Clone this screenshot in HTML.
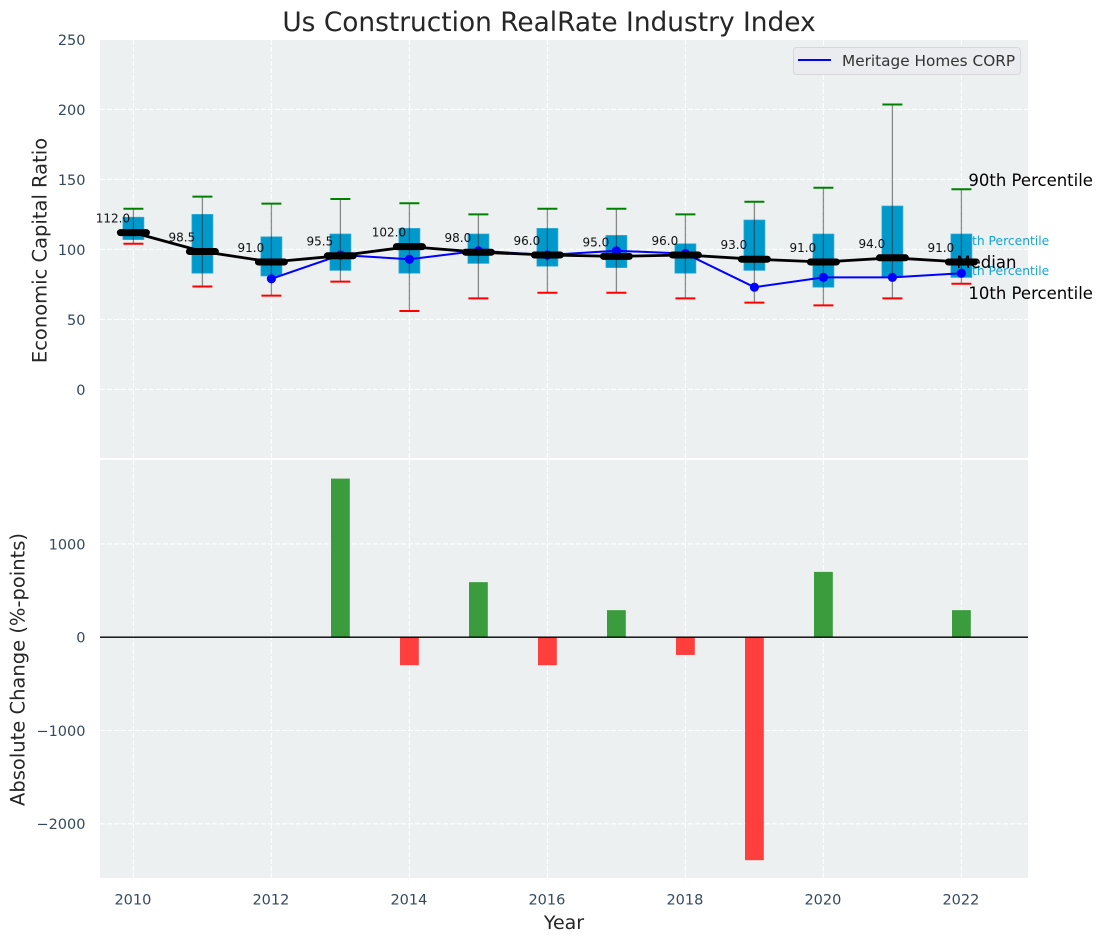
<!DOCTYPE html>
<html>
<head>
<meta charset="utf-8">
<title>Us Construction RealRate Industry Index</title>
<style>
html,body{margin:0;padding:0;background:#fff;}
svg{display:block;font-family:"DejaVu Sans","Liberation Sans",sans-serif;}
</style>
</head>
<body>
<svg id="chart" xmlns="http://www.w3.org/2000/svg" width="1103" height="942" viewBox="0 0 1103 942"></svg>
<script>
const years = [2010,2011,2012,2013,2014,2015,2016,2017,2018,2019,2020,2021,2022];
const p90 = [129,137.7,132.7,136,133,125,129,129,125,134,144,203.5,143];
const p75 = [123,125,109,111,115,111,115,110,104,121,111,131,111];
const medians = [112,98.5,91,95.5,102,98,96,95,96,93,91,94,91];
const p25 = [107,83,81,85,83,90,88,87,83,85,73,80,80];
const p10 = [104,73.5,67,77,56,65,69,69,65,62,60,65,75.5];
const company = [null,null,79,96,93,99,96,99,97,73,80,80,83];
const changes = [0,0,0,1700,-300,590,-300,290,-190,-2390,700,0,290];
const topTicks = [0,50,100,150,200,250];
const bottomTicks = [-2000,-1000,0,1000];
const xTicks = [2010,2012,2014,2016,2018,2020,2022];

const NS = 'http://www.w3.org/2000/svg';
const svg = document.getElementById('chart');
const xScale = v => 133.4 + (v - 2010) * 69;
const yTop = v => 389.4 - v * 1.4;
const yBottom = v => 637.2 - v * 0.0933;
const L = 100, R = 1028, T1 = 40, B1 = 458, T2 = 460, B2 = 878;

function make(tag, attrs, text, parent) {
  const el = document.createElementNS(NS, tag);
  for (const k in attrs) el.setAttribute(k, attrs[k]);
  if (text !== undefined) el.textContent = text;
  (parent || svg).appendChild(el);
  return el;
}
function label(el, name) {
  
  
  return el;
}

label(make('rect',{x:L,y:T1,width:R-L,height:B1-T1,fill:'#ecf0f1'}),'top-plot-background');
label(make('rect',{x:L,y:T2,width:R-L,height:B2-T2,fill:'#ecf0f1'}),'bottom-plot-background');

const gridStyle = {stroke:'#fff','stroke-width':1.1,'stroke-dasharray':'5 2','stroke-opacity':0.95};
xTicks.forEach(t => {
  const x = xScale(t);
  label(make('line',Object.assign({x1:x,x2:x,y1:T1,y2:B1},gridStyle)),'top-x-gridline-'+t);
  label(make('line',Object.assign({x1:x,x2:x,y1:T2,y2:B2},gridStyle)),'bottom-x-gridline-'+t);
  label(make('text',{x:x-0.5,y:904.6,'text-anchor':'middle','font-size':14.5,fill:'#34495e'},String(t)),'x-tick-label-'+t);
});
topTicks.forEach(t => {
  const y = yTop(t);
  if (t < 250) label(make('line',Object.assign({x1:L,x2:R,y1:y,y2:y},gridStyle)),'top-y-gridline-'+t);
  label(make('text',{x:85.5,y:y+5.6,'text-anchor':'end','font-size':14.5,fill:'#34495e'},String(t)),'top-y-tick-label-'+t);
});
bottomTicks.forEach(t => {
  const y = yBottom(t);
  label(make('line',Object.assign({x1:L,x2:R,y1:y,y2:y},gridStyle)),'bottom-y-gridline-'+t);
  const txt = t < 0 ? '\u2212' + Math.abs(t) : String(t);
  label(make('text',{x:85.5,y:y+5.4,'text-anchor':'end','font-size':14.5,fill:'#34495e'},txt),'bottom-y-tick-label-'+t);
});

const endX = xScale(2022);
label(make('text',{x:endX-5,y:245,'font-size':12.3,fill:'#0099cc','fill-opacity':0.9},'75th Percentile'),'p75-annotation');
label(make('text',{x:endX-5,y:275,'font-size':12.3,fill:'#0099cc','fill-opacity':0.9},'25th Percentile'),'p25-annotation');

years.forEach((yr,i) => {
  const x = xScale(yr);
  label(make('rect',{x:x-10.5,y:yTop(p75[i]),width:21,height:yTop(p25[i])-yTop(p75[i]),fill:'#0099cc',stroke:'#33aad6','stroke-width':0.7}),'iqr-box-'+yr);
  label(make('line',{x1:x,x2:x,y1:yTop(p90[i]),y2:yTop(p10[i]),stroke:'#222','stroke-opacity':0.5,'stroke-width':1.3}),'whisker-'+yr);
  label(make('line',{x1:x-10,x2:x+10,y1:yTop(p90[i]),y2:yTop(p90[i]),stroke:'#008000','stroke-width':2}),'p90-cap-'+yr);
  label(make('line',{x1:x-10,x2:x+10,y1:yTop(p10[i]),y2:yTop(p10[i]),stroke:'#ff0000','stroke-width':2}),'p10-cap-'+yr);
});

let companyPts = [];
years.forEach((yr,i) => { if (company[i] !== null) companyPts.push(xScale(yr)+','+yTop(company[i])); });
label(make('polyline',{points:companyPts.join(' '),fill:'none',stroke:'#0000ff','stroke-width':2}),'company-line');
years.forEach((yr,i) => {
  if (company[i] !== null) label(make('circle',{cx:xScale(yr),cy:yTop(company[i]),r:4.6,fill:'#0000ff'}),'company-point-'+yr);
});

label(make('polyline',{points:years.map((yr,i)=>xScale(yr)+','+yTop(medians[i])).join(' '),fill:'none',stroke:'#000','stroke-width':2.8}),'median-line');
years.forEach((yr,i) => {
  const x = xScale(yr), y = yTop(medians[i]);
  label(make('line',{x1:x-13,x2:x+13,y1:y,y2:y,stroke:'#000','stroke-width':7,'stroke-linecap':'round'}),'median-marker-'+yr);
  label(make('text',{x:x-20.5,y:y-10,'text-anchor':'middle','font-size':12,fill:'#111'},medians[i].toFixed(1)),'median-value-'+yr);
});

label(make('text',{x:endX+7,y:186,'font-size':16.5,fill:'#000'},'90th Percentile'),'p90-annotation');
label(make('text',{x:endX+7,y:299,'font-size':16.5,fill:'#000'},'10th Percentile'),'p10-annotation');
label(make('text',{x:endX-5,y:268,'font-size':16.5,fill:'#000'},'Median'),'median-annotation');

years.forEach((yr,i) => {
  if (changes[i] === 0) return;
  const x = xScale(yr), y0 = yBottom(0), y1 = yBottom(changes[i]);
  label(make('rect',{x:x-9.4,y:Math.min(y0,y1),width:18.8,height:Math.abs(y1-y0),fill:changes[i]>0?'#3b9c3e':'#ff3e3e'}),'change-bar-'+yr);
});
label(make('line',{x1:L,x2:R,y1:yBottom(0),y2:yBottom(0),stroke:'#000','stroke-width':1.4}),'zero-line');

label(make('rect',{x:793.5,y:47.5,width:227,height:27,rx:3,fill:'#eaecf0',stroke:'#d5d7da','stroke-width':1}),'legend-box');
label(make('line',{x1:798,x2:831,y1:60,y2:60,stroke:'#0000ff','stroke-width':2}),'legend-line');
label(make('text',{x:842,y:66,'font-size':15.3,fill:'#333'},'Meritage Homes CORP'),'legend-label');

label(make('text',{x:549,y:31,'text-anchor':'middle','font-size':26.4,fill:'#262626'},'Us Construction RealRate Industry Index'),'chart-title');
label(make('text',{x:564,y:929,'text-anchor':'middle','font-size':19,fill:'#262626'},'Year'),'x-axis-title');
label(make('text',{x:0,y:0,transform:'translate(46.5,250.5) rotate(-90)','text-anchor':'middle','font-size':19.5,fill:'#262626'},'Economic Capital Ratio'),'top-y-axis-title');
label(make('text',{x:0,y:0,transform:'translate(24.5,669.5) rotate(-90)','text-anchor':'middle','font-size':19.5,fill:'#262626'},'Absolute Change (%-points)'),'bottom-y-axis-title');
</script>
</body>
</html>
